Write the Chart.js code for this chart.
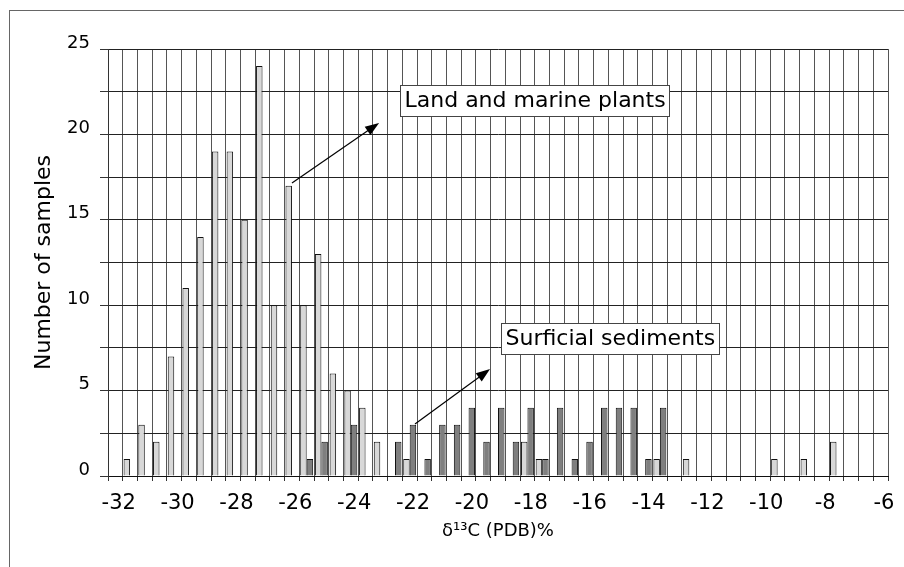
<!DOCTYPE html>
<html>
<head>
<meta charset="utf-8">
<script src="https://cdn.jsdelivr.net/npm/chart.js@4/dist/chart.umd.min.js"></script>
<style>
  html, body { margin: 0; padding: 0; background: #fff; overflow: hidden; }
  #wrap { position: relative; width: 904px; height: 567px; overflow: hidden; }
  #frame { position: absolute; left: 9px; top: 10px; width: 1000px; height: 1000px; border: 1px solid #666; box-sizing: border-box; }
  #chart { position: absolute; left: 0; top: 0; }
</style>
</head>
<body>
<div id="wrap">
  <div id="frame"></div>
  <canvas id="chart" width="904" height="567"></canvas>
</div>
<script>
// bin centres, 0.5 per mil wide bins
const binCenters = [-32.25, -31.75, -31.25, -30.75, -30.25, -29.75, -29.25, -28.75, -28.25, -27.75,
  -27.25, -26.75, -26.25, -25.75, -25.25, -24.75, -24.25, -23.75, -23.25, -22.75,
  -22.25, -21.75, -21.25, -20.75, -20.25, -19.75, -19.25, -18.75, -18.25, -17.75,
  -17.25, -16.75, -16.25, -15.75, -15.25, -14.75, -14.25, -13.75, -13.25, -12.75,
  -12.25, -11.75, -11.25, -10.75, -10.25, -9.75, -9.25, -8.75, -8.25, -7.75,
  -7.25, -6.75, -6.25];

const plants = [null, 1, 3, 2, 7, 11, 14, 19, 19, 15,
  24, 10, 17, 10, 13, 6, 5, 4, 2, null,
  1, null, null, null, null, null, null, null, 2, 1,
  null, null, null, null, null, null, null, 1, null, 1,
  null, null, null, null, null, 1, null, 1, null, 2,
  null, null, null];

const sediments = [null, null, null, null, null, null, null, null, null, null,
  null, null, null, 1, 2, null, 3, null, null, 2,
  3, 1, 3, 3, 4, 2, 4, 2, 4, 1,
  4, 1, 2, 4, 4, 4, 1, 4, null, null,
  null, null, null, null, null, null, null, null, null, null,
  null, null, null];

const xTickLabels = [-32, -30, -28, -26, -24, -22, -20, -18, -16, -14, -12, -10, -8, -6];
const yTickLabels = [0, 5, 10, 15, 20, 25];

// callouts, in data coordinates
const notes = [
  { text: 'Land and marine plants', box: [-22.58, 22.89], from: [-26.25, 17.15], to: [-23.29, 20.67] },
  { text: 'Surficial sediments', box: [-19.15, 8.96], from: [-22.07, 3.04], to: [-19.52, 6.26] }
];

const FONT = '"DejaVu Sans", "Liberation Sans", Arial, sans-serif';

const notePlugin = {
  id: 'notes',
  afterDraw(chart) {
    const ctx = chart.ctx;
    const xs = chart.scales.x;
    const ys = chart.scales.y;
    ctx.save();
    notes.forEach((n) => {
      const x0 = xs.getPixelForValue(n.from[0]);
      const y0 = ys.getPixelForValue(n.from[1]);
      const x1 = xs.getPixelForValue(n.to[0]);
      const y1 = ys.getPixelForValue(n.to[1]);
      const ang = Math.atan2(y1 - y0, x1 - x0);
      const hl = 14, hw = 5;
      ctx.strokeStyle = '#000';
      ctx.fillStyle = '#000';
      ctx.lineWidth = 1.2;
      ctx.beginPath();
      ctx.moveTo(x0, y0);
      ctx.lineTo(x1 - hl * 0.8 * Math.cos(ang), y1 - hl * 0.8 * Math.sin(ang));
      ctx.stroke();
      ctx.beginPath();
      ctx.moveTo(x1, y1);
      ctx.lineTo(x1 - hl * Math.cos(ang) + hw * Math.sin(ang), y1 - hl * Math.sin(ang) - hw * Math.cos(ang));
      ctx.lineTo(x1 - hl * Math.cos(ang) - hw * Math.sin(ang), y1 - hl * Math.sin(ang) + hw * Math.cos(ang));
      ctx.closePath();
      ctx.fill();

      ctx.font = '22px ' + FONT;
      const w = Math.round(ctx.measureText(n.text).width + 8);
      const bx = Math.round(xs.getPixelForValue(n.box[0])) + 0.5;
      const by = Math.round(ys.getPixelForValue(n.box[1])) + 0.5;
      ctx.fillStyle = '#fff';
      ctx.fillRect(bx, by, w, 31);
      ctx.strokeStyle = '#444';
      ctx.lineWidth = 1;
      ctx.strokeRect(bx, by, w, 31);
      ctx.fillStyle = '#000';
      ctx.textBaseline = 'middle';
      ctx.textAlign = 'left';
      ctx.fillText(n.text, bx + 4, by + 16);
    });
    ctx.restore();
  }
};

const ctx = document.getElementById('chart').getContext('2d');
const myChart = new Chart(ctx, {
  type: 'bar',
  data: {
    labels: binCenters,
    datasets: [
      {
        label: 'Land and marine plants',
        data: plants,
        backgroundColor: '#d8d8d8',
        borderColor: '#111',
        borderWidth: 1,
        categoryPercentage: 0.88,
        barPercentage: 1
      },
      {
        label: 'Surficial sediments',
        data: sediments,
        backgroundColor: '#7f7f7f',
        borderColor: '#111',
        borderWidth: 1,
        categoryPercentage: 0.88,
        barPercentage: 1
      }
    ]
  },
  options: {
    responsive: false,
    devicePixelRatio: 1,
    animation: false,
    layout: { padding: { top: 49, right: 16, bottom: 0, left: 0 } },
    plugins: {
      legend: { display: false },
      tooltip: { enabled: false }
    },
    scales: {
      x: {
        type: 'linear',
        min: -32.5,
        max: -6,
        offset: false,
        grid: { offset: false, color: '#555', lineWidth: 1, tickLength: 5, tickColor: '#333' },
        border: { color: '#111', width: 1 },
        ticks: {
          stepSize: 0.5,
          autoSkip: false,
          maxRotation: 0,
          padding: 10,
          labelOffset: -4,
          color: '#000',
          font: { family: FONT, size: 21 },
          callback: (v) => (xTickLabels.includes(v) ? String(v) : '')
        },
        title: {
          display: true,
          text: 'δ¹³C (PDB)%',
          color: '#000',
          font: { family: FONT, size: 18 },
          padding: { top: 0, bottom: 25 }
        },
        afterFit: (scale) => {
          scale.height = 91;
          scale.paddingLeft = 0;
          scale.paddingRight = 0;
        }
      },
      y: {
        min: 0,
        max: 25,
        grid: { color: '#222', lineWidth: 1, tickLength: 8, tickColor: '#333' },
        border: { color: '#333', width: 1 },
        ticks: {
          stepSize: 2.5,
          autoSkip: false,
          padding: 10,
          labelOffset: -6,
          color: '#000',
          font: { family: FONT, size: 18 },
          callback: (v) => (yTickLabels.includes(v) ? String(v) : '')
        },
        title: {
          display: true,
          text: 'Number of samples',
          color: '#000',
          font: { family: FONT, size: 22 },
          padding: { top: 31, bottom: 0 }
        },
        afterFit: (scale) => {
          scale.width = 108;
          scale.paddingTop = 0;
          scale.paddingBottom = 0;
        }
      }
    }
  },
  plugins: [notePlugin]
});
</script>
</body>
</html>
